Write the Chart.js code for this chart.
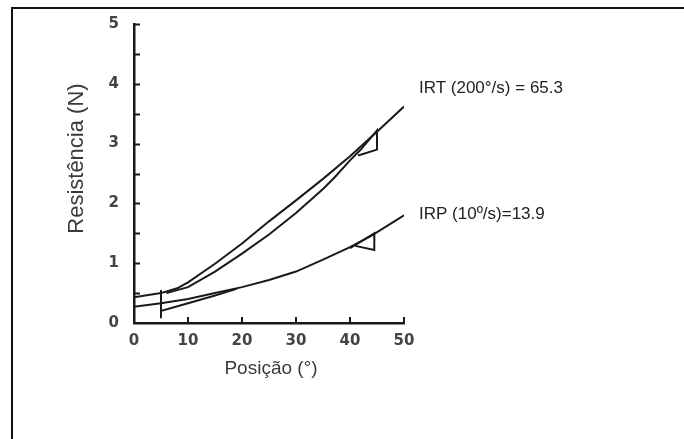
<!DOCTYPE html>
<html>
<head>
<meta charset="utf-8">
<title>Resistência x Posição</title>
<script src="https://cdn.jsdelivr.net/npm/chart.js@4/dist/chart.umd.min.js"></script>
<style>
  html, body { margin: 0; padding: 0; background: #fff; }
  #wrap { width: 684px; height: 439px; position: relative; }
</style>
</head>
<body>
<div id="wrap"><canvas id="c"></canvas></div>
<script>
// Resistance (N) against joint position (°) at two velocities.
// IRT = 200°/s, IRP = 10°/s. Each has a near-straight trace and a loop trace.
const xTickLabels = [0, 10, 20, 30, 40, 50];
const yTickLabels = [0, 1, 2, 3, 4, 5];
const yMinorTicks = [0.5, 1, 1.5, 2, 2.5, 3, 3.5, 4, 4.5, 5];
const xMinorTicks = [10, 20, 30, 40, 50];

// IRT (200°/s)
const irtLineX = [0, 5, 8, 10, 15, 20, 25, 30, 35, 40, 45, 50];
const irtLineY = [0.43, 0.5, 0.58, 0.68, 0.99, 1.33, 1.7, 2.05, 2.41, 2.79, 3.2, 3.62];
const irtLoopX = [6, 10, 15, 20, 25, 30, 35, 37, 40, 42, 45, 45, 41.5];
const irtLoopY = [0.5, 0.6, 0.86, 1.16, 1.48, 1.84, 2.24, 2.42, 2.72, 2.9, 3.22, 2.9, 2.8];

// IRP (10°/s)
const irpLineX = [0, 5, 10, 15, 20, 25, 30, 35, 40, 44, 50];
const irpLineY = [0.27, 0.33, 0.4, 0.5, 0.6, 0.72, 0.86, 1.06, 1.27, 1.46, 1.8];
const irpLoopX = [5, 5, 5, 10, 15, 19];
const irpLoopY = [0.55, 0.08, 0.2, 0.33, 0.46, 0.57];
const irpEndX = [40, 44.5, 44.5, 41];
const irpEndY = [1.25, 1.5, 1.22, 1.29];

// Start of the traces along the vertical axis
const startX = [0, 0];
const startY = [0.27, 0.5];

const labelIRT = 'IRT (200°/s) = 65.3';
const labelIRP = 'IRP (10º/s)=13.9';

const toPts = (xs, ys) => xs.map((x, i) => ({ x, y: ys[i] }));
const INK = '#1a1a1a';
const SANS = '"Liberation Sans", Arial, sans-serif';

function trace(xs, ys) {
  return {
    data: toPts(xs, ys),
    showLine: true,
    borderColor: INK,
    borderWidth: 2,
    pointRadius: 0,
    tension: 0,
    fill: false
  };
}

const decor = {
  id: 'decor',
  beforeDraw(chart) {
    const ctx = chart.ctx;
    ctx.save();
    ctx.fillStyle = '#fff';
    ctx.fillRect(0, 0, chart.width, chart.height);
    // outer frame (top and left edges)
    ctx.strokeStyle = '#111';
    ctx.lineWidth = 2;
    ctx.beginPath();
    ctx.moveTo(chart.width, 8);
    ctx.lineTo(12, 8);
    ctx.lineTo(12, chart.height);
    ctx.stroke();
    ctx.restore();
  },
  afterDraw(chart) {
    const ctx = chart.ctx;
    const xs = chart.scales.x, ys = chart.scales.y;
    const a = chart.chartArea;
    ctx.save();
    // inward tick marks
    ctx.strokeStyle = INK;
    ctx.lineWidth = 2;
    ctx.beginPath();
    yMinorTicks.forEach(v => {
      const p = Math.round(ys.getPixelForValue(v)) + 0.5;
      ctx.moveTo(a.left, p);
      ctx.lineTo(a.left + 6, p);
    });
    xMinorTicks.forEach(v => {
      const p = Math.round(xs.getPixelForValue(v));
      ctx.moveTo(p, a.bottom);
      ctx.lineTo(p, a.bottom - 6);
    });
    ctx.stroke();

    // axis titles
    ctx.fillStyle = '#3a3a3a';
    ctx.textAlign = 'center';
    ctx.textBaseline = 'middle';
    ctx.font = '19px ' + SANS;
    ctx.fillText('Posição (°)', (a.left + a.right) / 2 + 2, a.bottom + 46);
    ctx.save();
    ctx.translate(a.left - 57, ys.getPixelForValue(2.75));
    ctx.rotate(-Math.PI / 2);
    ctx.font = '22px ' + SANS;
    ctx.fillText('Resistência (N)', 0, 0);
    ctx.restore();

    // series labels
    ctx.fillStyle = '#222';
    ctx.textAlign = 'left';
    ctx.font = '17px ' + SANS;
    ctx.fillText(labelIRT, a.right + 15, ys.getPixelForValue(3.93));
    ctx.fillText(labelIRP, a.right + 15, ys.getPixelForValue(1.82));
    ctx.restore();
  }
};

const tickFont = { family: '"DejaVu Sans", sans-serif', size: 15, weight: 'bold' };

new Chart(document.getElementById('c'), {
  type: 'scatter',
  data: {
    datasets: [
      trace(irtLineX, irtLineY),
      trace(irtLoopX, irtLoopY),
      trace(irpLineX, irpLineY),
      trace(irpLoopX, irpLoopY),
      trace(irpEndX, irpEndY),
      trace(startX, startY)
    ]
  },
  options: {
    responsive: true,
    maintainAspectRatio: false,
    animation: false,
    events: [],
    layout: { padding: { left: 0, top: 23, right: 280, bottom: 0 } },
    plugins: { legend: { display: false }, tooltip: { enabled: false } },
    scales: {
      x: {
        type: 'linear',
        min: 0, max: 50,
        afterFit(s) { s.height = 116; },
        afterBuildTicks(s) { s.ticks = xTickLabels.map(v => ({ value: v })); },
        grid: { display: false, drawTicks: false },
        border: { display: true, color: INK, width: 2.5 },
        ticks: { padding: 9, color: '#444', font: tickFont, maxRotation: 0 }
      },
      y: {
        type: 'linear',
        min: 0, max: 5,
        afterFit(s) { s.width = 134; },
        afterBuildTicks(s) { s.ticks = yTickLabels.map(v => ({ value: v })); },
        grid: { display: false, drawTicks: false },
        border: { display: true, color: INK, width: 2.5 },
        ticks: { padding: 15, color: '#444', font: tickFont }
      }
    }
  },
  plugins: [decor]
});
</script>
</body>
</html>
